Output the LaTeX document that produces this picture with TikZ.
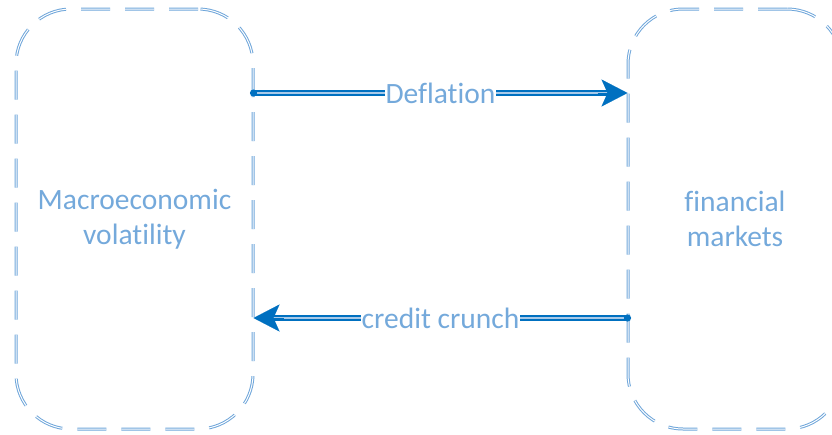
\documentclass[tikz,border=0pt]{standalone}
\usepackage{fontspec}
\setmainfont[Ligatures={NoCommon,NoContextual},RawFeature={-liga;-clig;-calt;-dlig}]{Carlito}
\usetikzlibrary{arrows.meta}
\definecolor{boxblue}{HTML}{6FA6DA}
\definecolor{textblue}{HTML}{74A9DB}
\definecolor{arrowblue}{HTML}{0070C0}

\begin{document}
\begin{tikzpicture}[x=1pt,y=-1pt,
    sector/.style={draw=boxblue,double=white,double distance=1pt,line width=1pt,
        dash pattern=on 29pt off 15pt,rounded corners=55pt,inner sep=0pt,
        text=textblue,align=center,font=\fontsize{29.5}{35}\selectfont},
    flow/.style={draw=arrowblue,double=boxblue!60,double distance=1.2pt,line width=2.2pt},
    flowtip/.style={arrowblue,line width=0.1pt,-{Stealth[length=26pt,width=27pt,inset=6pt]}},
    flowlabel/.style={fill=white,text=textblue,inner sep=1pt,font=\fontsize{29.5}{35}\selectfont}]
    \useasboundingbox (0,0) rectangle (832,434);

    % Boxes
    \node[sector,minimum width=237pt,minimum height=420pt] (macro) at (134.5,219) {Macroeconomic\\volatility};
    \node[sector,minimum width=214pt,minimum height=420pt] (market) at (735,219) {financial\\markets};

    % Arrow ends
    \coordinate (deflA) at ([yshift=126pt]macro.east);
    \coordinate (deflB) at ([yshift=126pt]market.west);
    \coordinate (credA) at ([yshift=-99pt]market.west);
    \coordinate (credB) at ([yshift=-99pt]macro.east);

    % Deflation
    \draw[flow,shorten >=20pt] (deflA) -- node[flowlabel] {Deflation} (deflB);
    \draw[flowtip] ([xshift=-30pt]deflB) -- (deflB);
    \fill[arrowblue] (deflA) circle (3.6pt);

    % Credit crunch
    \draw[flow,shorten >=20pt] (credA) -- node[flowlabel] {credit crunch} (credB);
    \draw[flowtip] ([xshift=30pt]credB) -- (credB);
    \fill[arrowblue] (credA) circle (3.6pt);
\end{tikzpicture}
\end{document}
